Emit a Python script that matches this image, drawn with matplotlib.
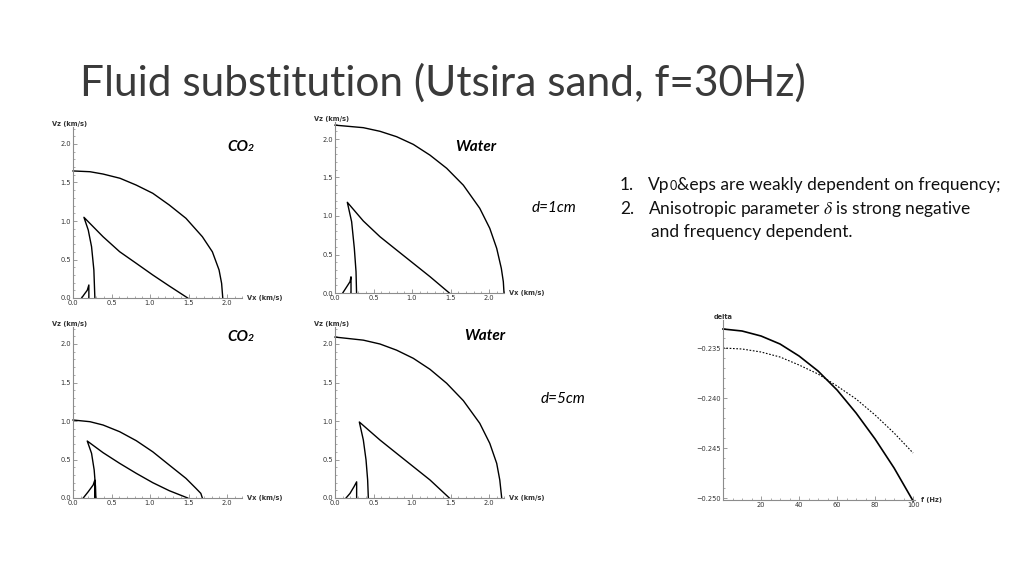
import matplotlib
matplotlib.use("Agg")
import matplotlib.pyplot as plt
from matplotlib.ticker import MultipleLocator

plt.rcParams['font.family'] = ['DejaVu Sans']
plt.rcParams['mathtext.fontset'] = 'stix'
TXT_FONT = ['Lato', 'DejaVu Sans']

W, H = 1024, 576

# ---- wavefront data (Vx, Vz in km/s) ----
# d=1cm, CO2
co2_1_p_x = [0.0, 0.22, 0.39, 0.61, 0.82, 1.036, 1.25, 1.467, 1.68, 1.81, 1.897, 1.93, 1.945]
co2_1_p_y = [1.65, 1.64, 1.61, 1.555, 1.467, 1.36, 1.208, 1.035, 0.796, 0.60, 0.364, 0.19, 0.0]
co2_1_cusp_x = [1.49, 1.25, 1.036, 0.822, 0.606, 0.39, 0.262, 0.142, 0.198, 0.241, 0.271, 0.284]
co2_1_cusp_y = [0.0, 0.156, 0.299, 0.45, 0.601, 0.796, 0.926, 1.048, 0.883, 0.666, 0.364, 0.0]
co2_1_small_x = [0.112, 0.155, 0.185, 0.206, 0.206]
co2_1_small_y = [0.0, 0.06, 0.10, 0.169, 0.0]

# d=1cm, water
wat_1_p_x = [0.0, 0.368, 0.584, 0.80, 1.017, 1.234, 1.45, 1.667, 1.88, 2.01, 2.10, 2.16, 2.186, 2.195]
wat_1_p_y = [2.18, 2.147, 2.10, 2.03, 1.93, 1.79, 1.62, 1.40, 1.10, 0.84, 0.58, 0.32, 0.147, 0.0]
wat_1_cusp_x = [1.485, 1.234, 1.017, 0.80, 0.584, 0.368, 0.16, 0.216, 0.251, 0.273, 0.28]
wat_1_cusp_y = [0.0, 0.212, 0.385, 0.558, 0.731, 0.935, 1.178, 0.926, 0.58, 0.277, 0.0]
wat_1_small_x = [0.10, 0.152, 0.195, 0.208, 0.208]
wat_1_small_y = [0.0, 0.08, 0.147, 0.21, 0.0]

# d=5cm, CO2
co2_5_p_x = [0.0, 0.22, 0.39, 0.606, 0.822, 1.036, 1.25, 1.467, 1.596, 1.66, 1.68]
co2_5_p_y = [1.013, 0.991, 0.948, 0.861, 0.744, 0.60, 0.428, 0.255, 0.126, 0.06, 0.0]
co2_5_cusp_x = [1.49, 1.25, 1.036, 0.822, 0.606, 0.39, 0.185, 0.241, 0.275, 0.292, 0.297]
co2_5_cusp_y = [0.0, 0.095, 0.199, 0.32, 0.45, 0.589, 0.74, 0.58, 0.364, 0.147, 0.0]
co2_5_small_x = [0.133, 0.198, 0.262, 0.284, 0.284, 0.29, 0.29]
co2_5_small_y = [0.0, 0.082, 0.169, 0.234, 0.0, 0.0, 0.22]

# d=5cm, water
wat_5_p_x = [0.0, 0.368, 0.584, 0.80, 1.017, 1.234, 1.45, 1.667, 1.88, 2.01, 2.10, 2.14, 2.165]
wat_5_p_y = [2.09, 2.05, 2.0, 1.92, 1.814, 1.671, 1.49, 1.264, 0.97, 0.71, 0.45, 0.234, 0.0]
wat_5_cusp_x = [1.485, 1.234, 1.017, 0.80, 0.584, 0.316, 0.368, 0.403, 0.424, 0.433]
wat_5_cusp_y = [0.0, 0.234, 0.407, 0.58, 0.753, 0.987, 0.753, 0.494, 0.234, 0.0]
wat_5_small_x = [0.143, 0.195, 0.247, 0.281, 0.281]
wat_5_small_y = [0.0, 0.06, 0.147, 0.21, 0.0]

# ---- delta vs frequency ----
freq = [0, 10, 20, 30, 40, 50, 60, 70, 80, 90, 100]
delta_solid = [-0.2331, -0.2333, -0.2338, -0.2346, -0.2358, -0.2373,
               -0.2392, -0.2415, -0.2441, -0.2470, -0.2503]
delta_dashed = [-0.2350, -0.2351, -0.2354, -0.2359, -0.2367, -0.2376,
                -0.2388, -0.2401, -0.2417, -0.2435, -0.2455]

AX_COLOR = '#8c8c8c'
LBL_COLOR = '#333333'

fig = plt.figure(figsize=(W / 100, H / 100), dpi=100)
renderer = fig.canvas.get_renderer()


def px(x, y):
    return x / W, 1 - y / H


def pieces(x, y, parts, va='baseline'):
    # place text parts one after another, starting at pixel x
    for s, kw in parts:
        t = fig.text(*px(x, y), s, va=va, ha='left', family=TXT_FONT, **kw)
        x = t.get_window_extent(renderer=renderer).x1


def style_axes(ax):
    for side in ['top', 'right']:
        ax.spines[side].set_visible(False)
    for side in ['left', 'bottom']:
        ax.spines[side].set_color(AX_COLOR)
        ax.spines[side].set_linewidth(0.8)
    ax.tick_params(which='both', colors=AX_COLOR, labelcolor=LBL_COLOR,
                   labelsize=4.8, direction='in', pad=1.5)
    ax.tick_params(which='major', length=3, width=0.6)
    ax.tick_params(which='minor', length=1.5, width=0.5)
    ax.patch.set_visible(False)


def wave_panel(left, zero_y, curves):
    sx, sy = 77.0, 77.0
    ax = fig.add_axes([left / W, 1 - zero_y / H, 2.2 * sx / W, 2.22 * sy / H])
    ax.set_xlim(0, 2.2)
    ax.set_ylim(0, 2.22)
    style_axes(ax)
    ax.xaxis.set_major_locator(MultipleLocator(0.5))
    ax.yaxis.set_major_locator(MultipleLocator(0.5))
    ax.xaxis.set_minor_locator(MultipleLocator(0.1))
    ax.yaxis.set_minor_locator(MultipleLocator(0.1))
    ax.xaxis.set_major_formatter(lambda v, p: f"{v:.1f}")
    ax.yaxis.set_major_formatter(lambda v, p: f"{v:.1f}")
    for cx, cy in curves:
        ax.plot(cx, cy, color='black', lw=1.0, clip_on=False)
    ax.text(-0.02, 1.0, "Vz (km/s)", transform=ax.transAxes, ha='center',
            va='bottom', fontsize=4.8, fontweight='bold', color=LBL_COLOR)
    ax.text(1.03, 0, "Vx (km/s)", transform=ax.transAxes, ha='left',
            va='center', fontsize=4.8, fontweight='bold', color=LBL_COLOR)
    return ax


wave_panel(73, 298, [(co2_1_p_x, co2_1_p_y), (co2_1_cusp_x, co2_1_cusp_y),
                     (co2_1_small_x, co2_1_small_y)])
wave_panel(335, 293, [(wat_1_p_x, wat_1_p_y), (wat_1_cusp_x, wat_1_cusp_y),
                      (wat_1_small_x, wat_1_small_y)])
wave_panel(73, 498, [(co2_5_p_x, co2_5_p_y), (co2_5_cusp_x, co2_5_cusp_y),
                     (co2_5_small_x, co2_5_small_y)])
wave_panel(335, 498, [(wat_5_p_x, wat_5_p_y), (wat_5_cusp_x, wat_5_cusp_y),
                      (wat_5_small_x, wat_5_small_y)])

# delta plot
ax = fig.add_axes([723 / W, 1 - 500 / H, 192 / W, 180 / H])
ax.set_xlim(0, 101)
ax.set_ylim(-0.2502, -0.2322)
style_axes(ax)
ax.xaxis.set_major_locator(MultipleLocator(20))
ax.xaxis.set_minor_locator(MultipleLocator(5))
ax.yaxis.set_major_locator(MultipleLocator(0.005))
ax.yaxis.set_minor_locator(MultipleLocator(0.001))
ax.xaxis.set_major_formatter(lambda v, p: "" if v == 0 else f"{v:.0f}")
ax.yaxis.set_major_formatter(lambda v, p: f"\u2212{abs(v):.3f}")
ax.plot(freq, delta_solid, color='black', lw=1.2, clip_on=False)
ax.plot(freq, delta_dashed, color='black', lw=0.8, ls=(0, (1.5, 1.5)))
ax.text(0, 1.0, "delta", transform=ax.transAxes, ha='center', va='bottom',
        fontsize=4.8, fontweight='bold', color=LBL_COLOR)
ax.text(1.03, 0, "f (Hz)", transform=ax.transAxes, ha='left', va='center',
        fontsize=4.8, fontweight='bold', color=LBL_COLOR)

# title
fig.text(*px(80, 96), "Fluid substitution (Utsira sand, f=30Hz)",
         fontsize=30.5, fontweight='normal', color='#3a3a3a', va='baseline',
         family=TXT_FONT)

# panel labels
bi = dict(fontsize=11, fontweight='bold', fontstyle='italic', color='black')
bi2 = dict(fontsize=7.5, fontweight='bold', fontstyle='italic', color='black')
pieces(227, 151, [("CO", bi), ("2", bi2)])
pieces(227, 341, [("CO", bi), ("2", bi2)])
pieces(455, 151, [("Water", bi)])
pieces(464, 340, [("Water", bi)])
it = dict(fontsize=11, fontstyle='italic', color='black')
pieces(532, 212, [("d=1cm", it)])
pieces(541, 403, [("d=5cm", it)])

# notes
nt = dict(fontsize=12.5, color='#111111')
nt_small = dict(fontsize=9, color='#111111')
pieces(620, 190, [("1.", nt)])
pieces(648, 190, [("Vp", nt), ("0", nt_small),
                  ("&eps are weakly dependent on frequency;", nt)])
pieces(620, 214, [("2.", nt)])
pieces(648, 214, [(r"Anisotropic parameter $\delta$ is strong negative", nt)])
pieces(651, 237, [("and frequency dependent.", nt)])

fig.savefig("out.png", dpi=100)
